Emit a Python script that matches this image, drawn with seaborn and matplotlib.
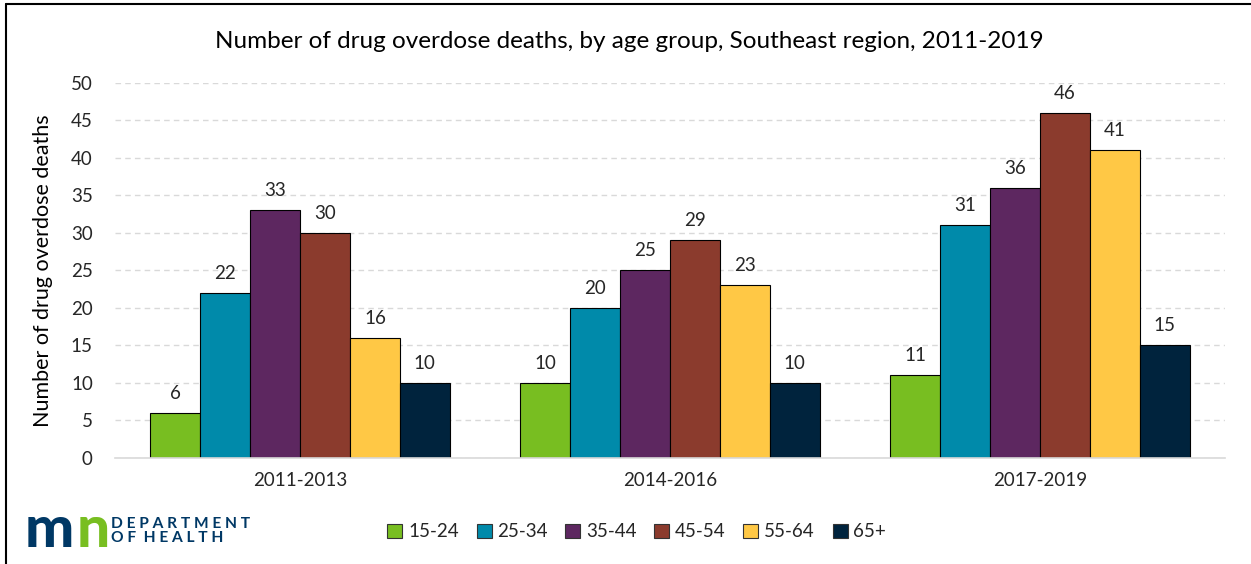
import matplotlib
matplotlib.use("Agg")
import matplotlib.pyplot as plt
import pandas as pd
import seaborn as sns
from matplotlib.lines import Line2D
from matplotlib.patches import Patch

periods = ["2011-2013", "2014-2016", "2017-2019"]
age_groups = ["15-24", "25-34", "35-44", "45-54", "55-64", "65+"]
deaths = {
    "15-24": [6, 10, 11],
    "25-34": [22, 20, 31],
    "35-44": [33, 25, 36],
    "45-54": [30, 29, 46],
    "55-64": [16, 23, 41],
    "65+": [10, 10, 15],
}
colors = ["#78BE21", "#008AAA", "#5D2760", "#8B3B2D", "#FFC845", "#00233D"]

rows = []
for g in age_groups:
    for p, v in zip(periods, deaths[g]):
        rows.append({"period": p, "age": g, "deaths": v})
df = pd.DataFrame(rows)

sns.set_style("white")
plt.rcParams["font.family"] = ["Lato", "DejaVu Sans"]

fig = plt.figure(figsize=(12.51, 5.64), dpi=100)
ax = fig.add_axes([0.092, 0.188, 0.887, 0.665])

sns.barplot(data=df, x="period", y="deaths", hue="age", order=periods,
            hue_order=age_groups, palette=colors, width=0.81,
            edgecolor="black", linewidth=0.8, saturation=1, ax=ax,
            legend=False, errorbar=None)

for c in ax.containers:
    ax.bar_label(c, padding=8, fontsize=13.5, color="#262626")

ax.set_ylim(0, 50)
ax.set_yticks(range(0, 51, 5))
ax.set_xlim(-0.5, 2.5)
ax.yaxis.grid(True, linestyle=(0, (4, 3)), color="#D9D9D9", linewidth=1)
ax.set_axisbelow(True)
for s in ["top", "right", "left"]:
    ax.spines[s].set_visible(False)
ax.spines["bottom"].set_color("#D9D9D9")
ax.spines["bottom"].set_linewidth(1.2)
ax.tick_params(axis="both", length=0, labelsize=13.5, colors="#262626")
ax.tick_params(axis="y", pad=16)
ax.tick_params(axis="x", pad=10)
ax.set_xlabel("")
ax.set_ylabel("Number of drug overdose deaths", fontsize=15.5, color="black", labelpad=13)
fig.suptitle("Number of drug overdose deaths, by age group, Southeast region, 2011-2019",
             x=0.503, y=0.926, va="center", fontsize=17.5, color="black")

handles = [Patch(facecolor=c, edgecolor="#333333", linewidth=0.8) for c in colors]
fig.legend(handles, age_groups, loc="center", bbox_to_anchor=(0.509, 0.057),
           ncol=6, frameon=False, fontsize=13.5, handlelength=0.8,
           handleheight=0.8, handletextpad=0.3, columnspacing=0.95)

# MN Department of Health logo (text approximation)
fig.text(0.020, 0.060, "m", fontsize=42, fontweight="black", color="#003865",
         va="center", ha="left", family=["Lato", "DejaVu Sans"])
fig.text(0.0615, 0.060, "n", fontsize=42, fontweight="black", color="#78BE21",
         va="center", ha="left", family=["Lato", "DejaVu Sans"])
fig.text(0.089, 0.058, "D E P A R T M E N T\nO F  H E A L T H", fontsize=11.2,
         fontweight="bold", color="#003865", va="center", ha="left",
         linespacing=1.0)

# frame lines along top and left edges
fig.add_artist(Line2D([0.005, 1.0], [0.993, 0.993], color="black", lw=1.5,
                      transform=fig.transFigure))
fig.add_artist(Line2D([0.005, 0.005], [0.0, 0.993], color="black", lw=1.5,
                      transform=fig.transFigure))

fig.savefig("out.png", dpi=100)
